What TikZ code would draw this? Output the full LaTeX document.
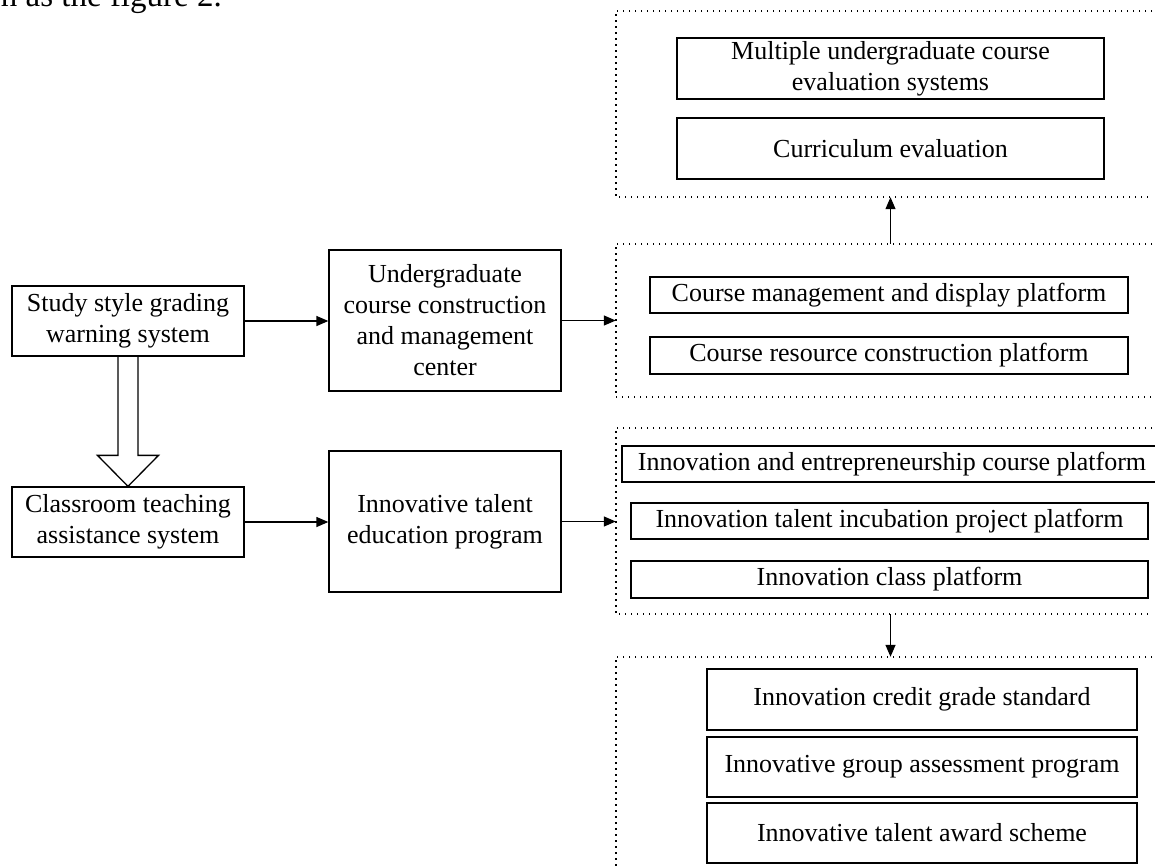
\documentclass[tikz,border=0pt]{standalone}
\usepackage{fontspec}
\setmainfont{Liberation Serif}
\usetikzlibrary{arrows.meta}
\begin{document}
\begin{tikzpicture}[x=1pt,y=-1pt,
  box/.style={draw, line width=1.3pt, align=center, inner sep=0pt,
    font=\fontsize{26}{31}\selectfont},
  grp/.style={inner sep=0pt, draw=none},
  dotline/.style={line width=1.5pt, dash pattern=on 1.4pt off 4.6pt},
  conn/.style={-{Triangle[length=12pt,width=10pt]}, line width=1.3pt},
  hollow/.style={line width=1.3pt, line join=miter}]
\useasboundingbox (0,0) rectangle (1155,865);
\begin{scope}
\clip (0,0) rectangle (1155,865);
% fragment of running text above the figure (cut off at the top, as in the reference)
\node[anchor=base east, inner sep=0pt, font=\fontsize{33}{38}\selectfont] (frag) at (222,6) {shown as the figure 2.};

% left column
\node[box, minimum width=232pt, minimum height=70pt] (study) at (128,321) {Study style grading\\warning system};
\node[box, minimum width=232pt, minimum height=70pt] (classroom) at (128,522) {Classroom teaching\\assistance system};
\node[box, minimum width=232pt, minimum height=141pt] (ugc) at (445,320.5) {Undergraduate\\course construction\\and management\\center};
\node[box, minimum width=232pt, minimum height=141pt] (itep) at (445,521.5) {Innovative talent\\education program};

% groups (dotted frames)
\node[grp, minimum width=536pt, minimum height=186pt] (g1) at (884,104) {};
\node[grp, minimum width=536pt, minimum height=153pt] (g2) at (884,320.5) {};
\node[grp, minimum width=536pt, minimum height=186pt] (g3) at (884,521) {};
\node[grp, minimum width=536pt, minimum height=220pt] (g4) at (884,767) {};
\draw[dotline] (g1.north east) -- (g1.north west) -- (g1.south west) -- (g1.south east);
\draw[dotline] (g2.north east) -- (g2.north west) -- (g2.south west) -- (g2.south east);
\draw[dotline] (g3.north east) -- (g3.north west) -- (g3.south west) -- (g3.south east);
\draw[dotline] (g4.north east) -- (g4.north west) -- (g4.south west);

% group 1
\node[box, minimum width=427pt, minimum height=61pt] (mult) at (890.5,68.5) {Multiple undergraduate course\\evaluation systems};
\node[box, minimum width=427pt, minimum height=61pt] (curr) at (890.5,148.5) {Curriculum evaluation};
% group 2
\node[box, minimum width=478pt, minimum height=36pt] (mgmt) at (889,295) {Course management and display platform};
\node[box, minimum width=478pt, minimum height=37pt] (res) at (889,355.5) {Course resource construction platform};
% group 3
\node[box, minimum width=540pt, minimum height=36pt] (entre) at (892,464) {Innovation and entrepreneurship course platform};
\node[box, minimum width=517pt, minimum height=36pt] (incub) at (889.5,521) {Innovation talent incubation project platform};
\node[box, minimum width=517pt, minimum height=37pt] (icp) at (889.5,579.5) {Innovation class platform};
% group 4
\node[box, minimum width=430pt, minimum height=61pt] (credit) at (922,699.5) {Innovation credit grade standard};
\node[box, minimum width=430pt, minimum height=60pt] (gap) at (922,767) {Innovative group assessment program};
\node[box, minimum width=430pt, minimum height=60pt] (award) at (922,833) {Innovative talent award scheme};

% connectors
\draw[conn] (study.east) -- (ugc.west |- study.east);
\draw[conn] (classroom.east) -- (itep.west |- classroom.east);
\draw[conn] (ugc.east) -- (ugc.east -| g2.west);
\draw[conn] (itep.east) -- (itep.east -| g3.west);
\draw[conn] (curr.south |- g2.north) -- (curr.south |- g1.south);
\draw[conn] (curr.south |- g3.south) -- (curr.south |- g4.north);

% hollow block arrow
\draw[hollow] ([xshift=-10pt]study.south) -- ([xshift=-10pt,yshift=31pt]classroom.north)
  -- ([xshift=-30.5pt,yshift=31pt]classroom.north) -- (classroom.north)
  -- ([xshift=30.5pt,yshift=31pt]classroom.north) -- ([xshift=10pt,yshift=31pt]classroom.north)
  -- ([xshift=10pt]study.south);
\end{scope}
\end{tikzpicture}
\end{document}
